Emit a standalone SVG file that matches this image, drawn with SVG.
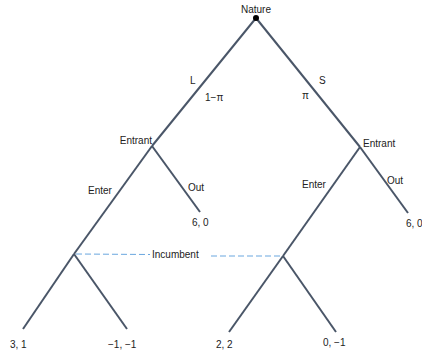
<svg xmlns="http://www.w3.org/2000/svg" width="422" height="354" viewBox="0 0 422 354">
<style>
.e{stroke:#4a5668;stroke-width:2;fill:none}
.d{stroke:#6aa7df;stroke-width:1;stroke-dasharray:6,3;fill:none}
text{font-family:"Liberation Sans",Arial,sans-serif;font-size:10px;fill:#222}
</style>
<rect width="422" height="354" fill="#fff"/>
<g id="connectors">
<line class="e" x1="256" y1="18" x2="152" y2="146"/>
<line class="e" x1="256" y1="18" x2="360" y2="147"/>
<line class="e" x1="152" y1="146" x2="74" y2="254"/>
<line class="e" x1="152" y1="146" x2="200" y2="212"/>
<line class="e" x1="360" y1="147" x2="283" y2="256"/>
<line class="e" x1="360" y1="147" x2="408" y2="213"/>
<line class="e" x1="74" y1="254" x2="23" y2="329"/>
<line class="e" x1="74" y1="254" x2="127" y2="329"/>
<line class="e" x1="283" y1="256" x2="229" y2="332"/>
<line class="e" x1="283" y1="256" x2="336" y2="332"/>
<line class="d" x1="76" y1="254" x2="150" y2="254.5"/>
<line class="d" x1="211" y1="256" x2="282" y2="256"/>
<text x="190" y="84">L</text>
<text x="205" y="101">1−π</text>
<text x="319" y="84">S</text>
<text x="302" y="99">π</text>
<text x="88" y="194">Enter</text>
<text x="188" y="191">Out</text>
<text x="302" y="188">Enter</text>
<text x="387" y="184">Out</text>
<text x="152" y="258">Incumbent</text>
</g>
<g id="nature">
<circle cx="256" cy="18" r="3" fill="#000"/>
<text x="256" y="13" text-anchor="middle">Nature</text>
</g>
<g id="entrant-l"><text x="152" y="144" text-anchor="end">Entrant</text></g>
<g id="entrant-s"><text x="363" y="147">Entrant</text></g>
<g id="out-l"><text x="192" y="226">6, 0</text></g>
<g id="out-s"><text x="406" y="227">6, 0</text></g>
<g id="leaf1"><text x="10" y="348">3, 1</text></g>
<g id="leaf2"><text x="108" y="348">−1, −1</text></g>
<g id="leaf3"><text x="216" y="348">2, 2</text></g>
<g id="leaf4"><text x="323" y="346">0, −1</text></g>
</svg>
